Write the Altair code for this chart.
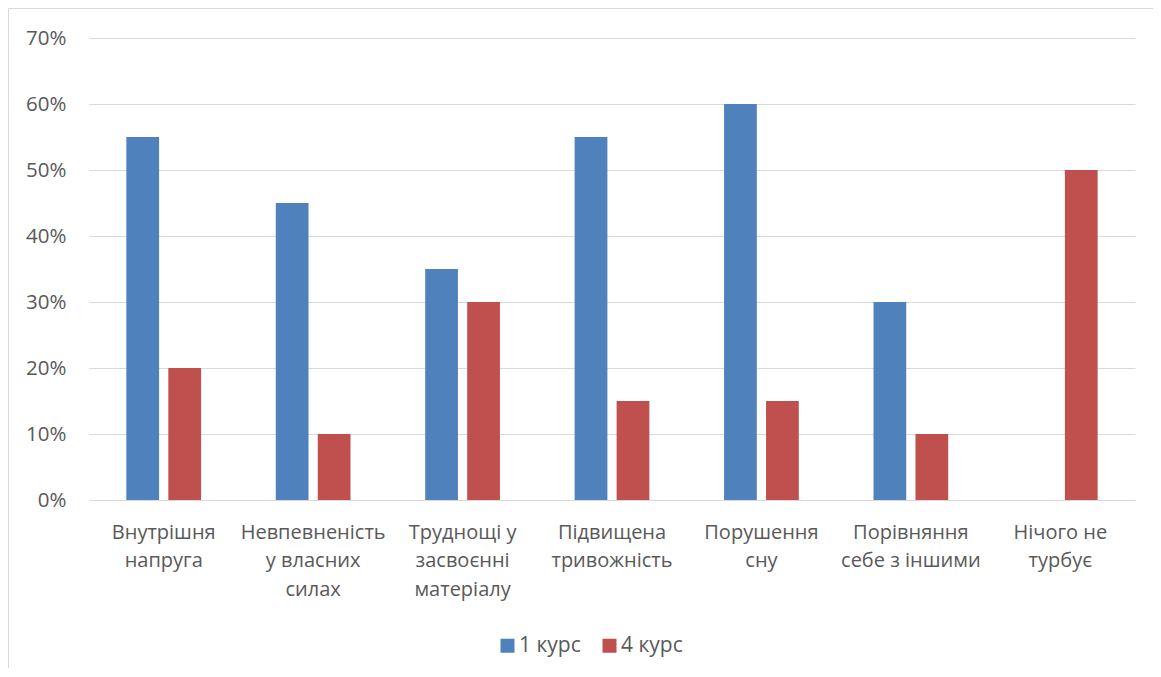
import altair as alt
import pandas as pd

categories = [
    "Внутрішня\nнапруга",
    "Невпевненість\nу власних\nсилах",
    "Труднощі у\nзасвоєнні\nматеріалу",
    "Підвищена\nтривожність",
    "Порушення\nсну",
    "Порівняння\nсебе з іншими",
    "Нічого не\nтурбує",
]
series = ["1 курс", "4 курс"]
course1 = [55, 45, 35, 55, 60, 30, 0]
course4 = [20, 10, 30, 15, 15, 10, 50]
colors = ["#4F81BD", "#C0504D"]
y_ticks = [0, 10, 20, 30, 40, 50, 60, 70]

rows = []
for c, a, b in zip(categories, course1, course4):
    rows.append({"cat": c, "series": series[0], "value": a})
    rows.append({"cat": c, "series": series[1], "value": b})
df = pd.DataFrame(rows)

FONT = "Open Sans"
W, H = 1046, 462

bars = alt.Chart(df).mark_bar().encode(
    x=alt.X("cat:N", sort=categories, title=None,
            scale=alt.Scale(paddingInner=0.5, paddingOuter=0.25),
            axis=alt.Axis(labelAngle=0, labelExpr="split(datum.label, '\\n')",
                          labelLimit=0, labelPadding=22, labelBaseline="top",
                          labelLineHeight=28.5, ticks=False, domain=False,
                          labelFontSize=20, labelColor="#595959", labelFont=FONT)),
    xOffset=alt.XOffset("series:N", sort=series,
                        scale=alt.Scale(paddingInner=0.22, paddingOuter=0)),
    y=alt.Y("value:Q", title=None,
            scale=alt.Scale(domain=[0, 70], nice=False),
            axis=alt.Axis(values=y_ticks, labelExpr="datum.value + '%'",
                          ticks=False, domain=False, grid=True,
                          gridColor="#D9D9D9", gridWidth=1,
                          labelPadding=23, labelFontSize=20.5,
                          labelColor="#595959", labelFont=FONT)),
    color=alt.Color("series:N", sort=series, title=None,
                    scale=alt.Scale(domain=series, range=colors),
                    legend=alt.Legend(orient="none", direction="horizontal",
                                      legendX=408, legendY=597,
                                      symbolType="square", symbolSize=196,
                                      symbolStrokeWidth=0, symbolOpacity=1,
                                      labelFontSize=21, labelColor="#595959",
                                      labelFont=FONT, labelOffset=1,
                                      columnPadding=18, padding=0)),
)

one = pd.DataFrame({"f": [0]})
frame_left = alt.Chart(one).mark_rule(color="#D9D9D9", strokeWidth=1).encode(
    x=alt.value(-80.5), y=alt.value(-29.5), y2=alt.value(H + 200),
)
frame_top = alt.Chart(one).mark_rule(color="#D9D9D9", strokeWidth=1).encode(
    x=alt.value(-80.5), x2=alt.value(W + 100), y=alt.value(-29.5),
)

chart = alt.layer(frame_left, frame_top, bars).properties(
    width=W, height=H,
    autosize=alt.AutoSizeParams(type="none"),
    padding={"left": 81, "top": 30, "right": 18, "bottom": 168},
    background="white",
).configure_view(stroke=None)

chart.save("out.html", embed_options={"renderer": "svg", "actions": False})
